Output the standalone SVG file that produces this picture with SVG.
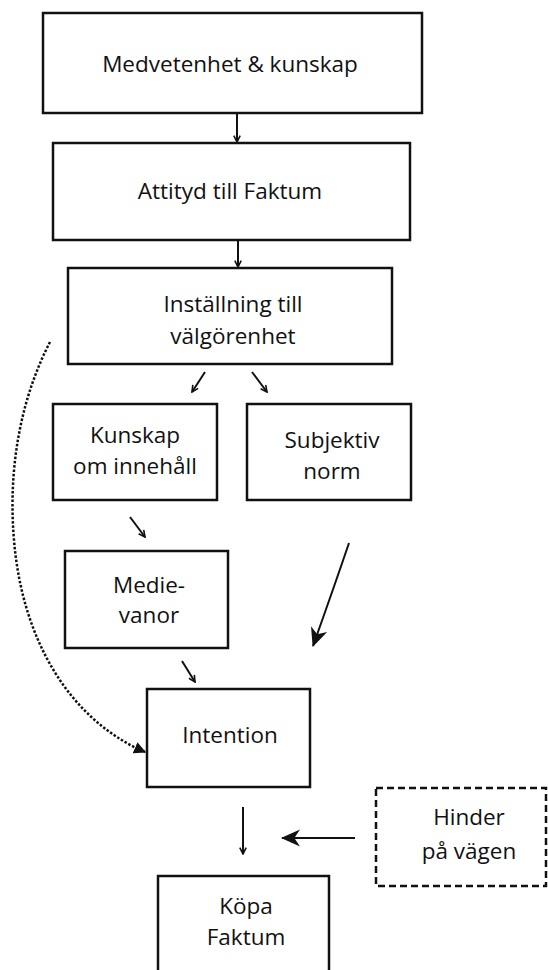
<svg xmlns="http://www.w3.org/2000/svg" width="548" height="970" viewBox="0 0 548 970">
<defs>
<style>
.box{fill:#fff;stroke:#111;stroke-width:2.5}
.dash{fill:#fff;stroke:#111;stroke-width:2.5;stroke-dasharray:7 4}
.t{font-family:"Open Sans","Noto Sans",sans-serif;font-size:22.5px;fill:#111;text-anchor:middle}
.ln{fill:none;stroke:#111;stroke-width:2}
.dot{fill:none;stroke:#111;stroke-width:2.5;stroke-dasharray:2.5 1.8}
</style>
<marker id="v" viewBox="0 0 10 10" refX="9" refY="5" markerWidth="8" markerHeight="8" orient="auto" markerUnits="userSpaceOnUse">
<path d="M1,1 L9,5 L1,9" fill="none" stroke="#111" stroke-width="2"/>
</marker>
<marker id="big" viewBox="0 0 20 20" refX="19" refY="10" markerWidth="19" markerHeight="19" orient="auto" markerUnits="userSpaceOnUse">
<path d="M0,1 L20,10 L0,19 L6,10 Z" fill="#111"/>
</marker>
<marker id="tri" viewBox="0 0 10 10" refX="9" refY="5" markerWidth="12" markerHeight="12" orient="auto" markerUnits="userSpaceOnUse">
<path d="M0,0 L10,5 L0,10 Z" fill="#111"/>
</marker>
</defs>
<rect width="548" height="970" fill="#fff"/>
<g id="n1"><rect class="box" x="43" y="13" width="379" height="100"/><text class="t" x="230" y="72">Medvetenhet &amp; kunskap</text></g>
<g id="n2"><rect class="box" x="53" y="143" width="357" height="97"/><text class="t" x="230" y="199">Attityd till Faktum</text></g>
<g id="n3"><rect class="box" x="68" y="268" width="324" height="96"/><text class="t" x="233" y="312">Inställning till</text><text class="t" x="233" y="344">välgörenhet</text></g>
<g id="n4"><rect class="box" x="53" y="404" width="164" height="96"/><text class="t" x="135" y="443">Kunskap</text><text class="t" x="135" y="474">om innehåll</text></g>
<g id="n5"><rect class="box" x="247" y="404" width="164" height="96"/><text class="t" x="332" y="448">Subjektiv</text><text class="t" x="332" y="479">norm</text></g>
<g id="n6"><rect class="box" x="65" y="551" width="163" height="97"/><text class="t" x="149" y="593">Medie-</text><text class="t" x="149" y="623">vanor</text></g>
<g id="n7"><rect class="box" x="147" y="689" width="163" height="98"/><text class="t" x="230" y="743">Intention</text></g>
<g id="n8"><rect class="dash" x="376" y="788" width="170" height="98"/><text class="t" x="469" y="825">Hinder</text><text class="t" x="469" y="859">på vägen</text></g>
<g id="n9"><rect class="box" x="158" y="876" width="171" height="110"/><text class="t" x="246" y="914">Köpa</text><text class="t" x="246" y="945">Faktum</text></g>
<g id="connectors">
<line class="ln" x1="237" y1="114" x2="237" y2="142" marker-end="url(#v)"/>
<line class="ln" x1="238" y1="241" x2="238" y2="267" marker-end="url(#v)"/>
<line class="ln" x1="205" y1="372" x2="192" y2="392" marker-end="url(#v)"/>
<line class="ln" x1="252" y1="372" x2="267" y2="392" marker-end="url(#v)"/>
<line class="ln" x1="130" y1="517" x2="145" y2="537" marker-end="url(#v)"/>
<line class="ln" x1="182" y1="661" x2="195" y2="682" marker-end="url(#v)"/>
<path class="ln" d="M349,543 Q333,590 313,646" marker-end="url(#big)" stroke-width="2.5"/>
<path class="dot" d="M50,342 C20,400 8,470 14,540 C22,640 70,720 145,752" marker-end="url(#tri)"/>
<line class="ln" x1="243" y1="807" x2="243" y2="854" marker-end="url(#v)"/>
<line class="ln" x1="355" y1="838" x2="282" y2="838" marker-end="url(#big)" stroke-width="2.5"/>
</g>
</svg>
